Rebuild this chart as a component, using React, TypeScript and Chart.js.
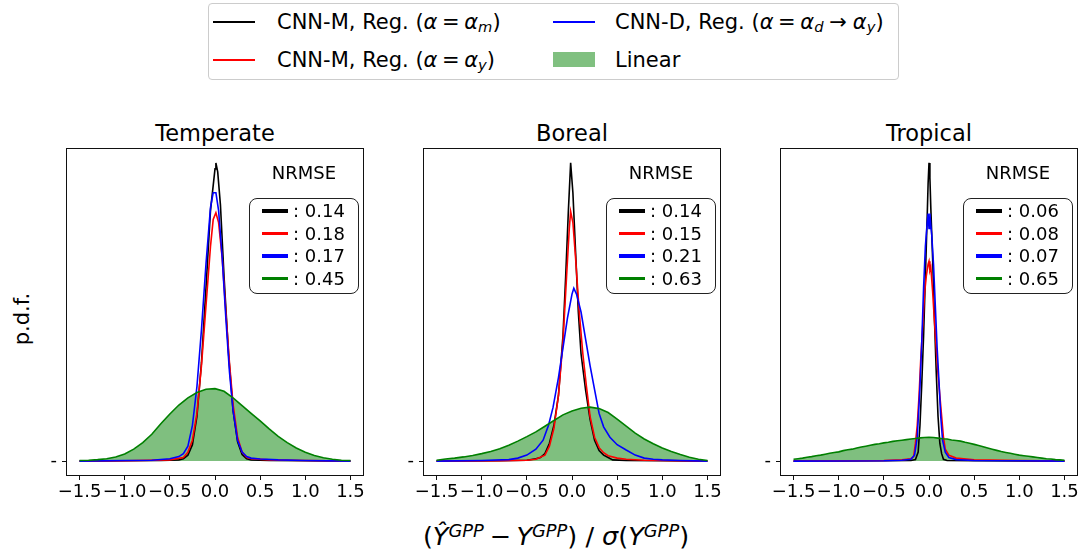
import React, { useEffect, useRef } from 'react';
import { Chart, registerables } from 'chart.js';

Chart.register(...registerables);

const FONT = "'DejaVu Sans', 'Liberation Sans', sans-serif";

// ---------- axis ticks ----------
const xTicks = [-1.5, -1.0, -0.5, 0.0, 0.5, 1.0, 1.5];
const xTickLabels = ['\u22121.5', '\u22121.0', '\u22120.5', '0.0', '0.5', '1.0', '1.5'];
const yTicks = [0];
const yTickLabels = ['-'];

// ---------- legend / titles ----------
const panelTitles = ['Temperate', 'Boreal', 'Tropical'];
const temperateNrmse = ['0.14', '0.18', '0.17', '0.45'];
const borealNrmse = ['0.14', '0.15', '0.21', '0.63'];
const tropicalNrmse = ['0.06', '0.08', '0.07', '0.65'];

// ---------- Linear (green, filled) ----------
const linearX = [-1.5, -1.4, -1.3, -1.2, -1.1, -1.0, -0.9, -0.8, -0.7, -0.6, -0.5, -0.4, -0.3, -0.2, -0.1, 0.0,
  0.1, 0.2, 0.3, 0.4, 0.5, 0.6, 0.7, 0.8, 0.9, 1.0, 1.1, 1.2, 1.3, 1.4, 1.5];
const temperateLinear = [0.002, 0.003, 0.005, 0.008, 0.014, 0.024, 0.040, 0.062, 0.090, 0.125, 0.158, 0.188, 0.212,
  0.230, 0.241, 0.243, 0.234, 0.212, 0.186, 0.160, 0.135, 0.108, 0.083, 0.062, 0.044, 0.030, 0.019, 0.011, 0.006, 0.003, 0.002];
const borealLinear = [0.003, 0.007, 0.010, 0.014, 0.019, 0.025, 0.032, 0.041, 0.053, 0.067, 0.082, 0.098, 0.117,
  0.136, 0.155, 0.168, 0.177, 0.181, 0.176, 0.163, 0.141, 0.117, 0.094, 0.074, 0.058, 0.044, 0.032, 0.022, 0.013, 0.006, 0.002];
const tropicalLinearX = [-1.5, -1.45, -1.4, -1.35, -1.3, -1.25, -1.2, -1.15, -1.1, -1.05, -1.0, -0.95, -0.9, -0.85,
  -0.8, -0.75, -0.7, -0.65, -0.6, -0.55, -0.5, -0.45, -0.4, -0.35, -0.3, -0.25, -0.2, -0.15, -0.1, -0.05, 0.0,
  0.05, 0.1, 0.15, 0.2, 0.25, 0.3, 0.35, 0.4, 0.45, 0.5, 0.55, 0.6, 0.65, 0.7, 0.75, 0.8, 0.85, 0.9, 0.95, 1.0,
  1.05, 1.1, 1.15, 1.2, 1.25, 1.3, 1.35, 1.4, 1.45, 1.5];
const tropicalLinear = [0.006, 0.008, 0.010, 0.013, 0.015, 0.018, 0.020, 0.023, 0.026, 0.029, 0.031, 0.035, 0.038,
  0.040, 0.044, 0.047, 0.050, 0.053, 0.056, 0.058, 0.061, 0.063, 0.066, 0.068, 0.070, 0.072, 0.074, 0.076, 0.078,
  0.079, 0.080, 0.079, 0.077, 0.075, 0.074, 0.071, 0.069, 0.067, 0.063, 0.060, 0.056, 0.052, 0.048, 0.044, 0.040,
  0.036, 0.032, 0.029, 0.026, 0.023, 0.020, 0.018, 0.016, 0.014, 0.012, 0.010, 0.008, 0.007, 0.005, 0.004, 0.003];

// ---------- Temperate ----------
const temperateMX = [-1.5, -1.0, -0.6, -0.4, -0.35, -0.3, -0.25, -0.2, -0.15, -0.1, -0.05, 0.0, 0.01, 0.03, 0.06,
  0.1, 0.15, 0.2, 0.25, 0.3, 0.35, 0.4, 0.6, 1.0, 1.5];
const temperateMY = [0, 0.001, 0.002, 0.004, 0.008, 0.02, 0.055, 0.15, 0.33, 0.58, 0.84, 0.98, 1.0, 0.97, 0.86,
  0.62, 0.36, 0.17, 0.065, 0.022, 0.008, 0.004, 0.002, 0.001, 0];
const temperateYX = [-1.5, -1.0, -0.5, -0.35, -0.3, -0.25, -0.2, -0.15, -0.1, -0.05, -0.02, 0.01, 0.04, 0.08, 0.12,
  0.16, 0.2, 0.25, 0.3, 0.35, 0.4, 0.6, 1.0, 1.5];
const temperateYY = [0, 0.001, 0.004, 0.012, 0.03, 0.07, 0.16, 0.32, 0.52, 0.72, 0.81, 0.833, 0.80, 0.68, 0.50,
  0.33, 0.19, 0.08, 0.03, 0.013, 0.008, 0.004, 0.002, 0];
const temperateDX = [-1.5, -1.0, -0.7, -0.5, -0.4, -0.35, -0.3, -0.25, -0.2, -0.15, -0.1, -0.05, -0.02, 0.01, 0.04,
  0.08, 0.12, 0.16, 0.2, 0.25, 0.3, 0.35, 0.4, 0.5, 0.7, 1.0, 1.5];
const temperateDY = [0, 0.002, 0.003, 0.008, 0.015, 0.025, 0.05, 0.12, 0.25, 0.44, 0.66, 0.85, 0.90, 0.90, 0.84,
  0.68, 0.48, 0.30, 0.17, 0.07, 0.03, 0.015, 0.01, 0.007, 0.004, 0.002, 0];

// ---------- Boreal ----------
const borealMX = [-1.5, -0.8, -0.5, -0.4, -0.35, -0.3, -0.25, -0.2, -0.15, -0.1, -0.07, -0.04, -0.015, 0.01, 0.04,
  0.07, 0.1, 0.15, 0.2, 0.25, 0.3, 0.35, 0.4, 0.45, 0.6, 1.0, 1.5];
const borealMY = [0, 0.001, 0.003, 0.008, 0.012, 0.025, 0.06, 0.12, 0.22, 0.42, 0.62, 0.84, 1.0, 0.90, 0.70,
  0.50, 0.36, 0.24, 0.14, 0.07, 0.035, 0.02, 0.012, 0.004, 0.002, 0.001, 0];
const borealYX = [-1.5, -0.8, -0.5, -0.4, -0.3, -0.25, -0.2, -0.15, -0.1, -0.06, -0.03, -0.015, 0.01, 0.04, 0.08,
  0.12, 0.16, 0.2, 0.25, 0.3, 0.35, 0.4, 0.5, 0.6, 0.8, 1.0, 1.5];
const borealYY = [0, 0.001, 0.003, 0.006, 0.02, 0.05, 0.11, 0.22, 0.40, 0.62, 0.78, 0.837, 0.80, 0.68, 0.50,
  0.36, 0.25, 0.15, 0.08, 0.045, 0.028, 0.018, 0.010, 0.006, 0.003, 0.002, 0];
const borealDX = [-1.5, -1.0, -0.7, -0.6, -0.5, -0.4, -0.32, -0.26, -0.21, -0.15, -0.1, -0.05, 0.0, 0.02, 0.05,
  0.1, 0.15, 0.2, 0.25, 0.3, 0.35, 0.42, 0.5, 0.6, 0.7, 0.8, 0.9, 1.0, 1.2, 1.5];
const borealDY = [0, 0.002, 0.005, 0.01, 0.02, 0.04, 0.07, 0.12, 0.18, 0.28, 0.38, 0.48, 0.56, 0.58, 0.56,
  0.50, 0.41, 0.32, 0.24, 0.16, 0.115, 0.08, 0.055, 0.037, 0.02, 0.01, 0.006, 0.004, 0.002, 0];

// ---------- Tropical ----------
const tropicalMX = [-1.5, -0.5, -0.2, -0.15, -0.12, -0.1, -0.08, -0.06, -0.04, -0.02, -0.01, 0.0, 0.01, 0.02, 0.04,
  0.06, 0.08, 0.1, 0.12, 0.14, 0.16, 0.2, 0.5, 1.5];
const tropicalMY = [0, 0.001, 0.002, 0.005, 0.03, 0.12, 0.26, 0.42, 0.62, 0.82, 0.93, 1.0, 0.95, 0.85, 0.68,
  0.48, 0.30, 0.15, 0.06, 0.025, 0.006, 0.002, 0.001, 0];
const tropicalYX = [-1.5, -0.5, -0.3, -0.2, -0.17, -0.15, -0.13, -0.11, -0.09, -0.07, -0.05, -0.03, -0.01, 0.0,
  0.01, 0.02, 0.04, 0.06, 0.08, 0.1, 0.12, 0.14, 0.16, 0.18, 0.22, 0.3, 0.5, 1.0, 1.5];
const tropicalYY = [0, 0.002, 0.004, 0.008, 0.015, 0.06, 0.12, 0.22, 0.35, 0.45, 0.56, 0.62, 0.66, 0.67,
  0.64, 0.65, 0.57, 0.47, 0.38, 0.29, 0.22, 0.15, 0.08, 0.04, 0.02, 0.01, 0.004, 0.002, 0];
const tropicalDX = [-1.5, -0.5, -0.3, -0.2, -0.16, -0.13, -0.1, -0.08, -0.06, -0.04, -0.02, -0.01, 0.0, 0.01, 0.02,
  0.03, 0.05, 0.07, 0.09, 0.11, 0.13, 0.15, 0.18, 0.22, 0.3, 0.5, 1.0, 1.5];
const tropicalDY = [0, 0.001, 0.003, 0.006, 0.02, 0.08, 0.25, 0.40, 0.58, 0.72, 0.80, 0.83, 0.78, 0.83, 0.79,
  0.76, 0.66, 0.52, 0.38, 0.27, 0.15, 0.07, 0.03, 0.012, 0.005, 0.002, 0.001, 0];

// ---------- styling ----------
const C_M = '#000000';
const C_Y = '#ff0000';
const C_D = '#0000ff';
const C_LIN = '#008000';
const C_FILL = 'rgba(0,128,0,0.5)';
const legendColors = [C_M, C_Y, C_D, C_LIN];

const BOX_W = 298;
const BOX_H = 328;
const BOX_TOP = 148;
const Y_AXIS_W = 30;
const X_AXIS_H = 32;
const PAD_TOP = 2;
const PAD_RIGHT = 4;

type Curve = { xs: number[]; ys: number[] };
type Panel = {
  title: string;
  left: number;
  nrmse: string[];
  lin: Curve;
  m: Curve;
  y: Curve;
  d: Curve;
};

const panels: Panel[] = [
  {
    title: panelTitles[0], left: 66, nrmse: temperateNrmse,
    lin: { xs: linearX, ys: temperateLinear },
    m: { xs: temperateMX, ys: temperateMY },
    y: { xs: temperateYX, ys: temperateYY },
    d: { xs: temperateDX, ys: temperateDY },
  },
  {
    title: panelTitles[1], left: 423, nrmse: borealNrmse,
    lin: { xs: linearX, ys: borealLinear },
    m: { xs: borealMX, ys: borealMY },
    y: { xs: borealYX, ys: borealYY },
    d: { xs: borealDX, ys: borealDY },
  },
  {
    title: panelTitles[2], left: 780, nrmse: tropicalNrmse,
    lin: { xs: tropicalLinearX, ys: tropicalLinear },
    m: { xs: tropicalMX, ys: tropicalMY },
    y: { xs: tropicalYX, ys: tropicalYY },
    d: { xs: tropicalDX, ys: tropicalDY },
  },
];

const toPoints = (c: Curve) => c.xs.map((x, i) => ({ x, y: c.ys[i] }));

const framePlugin = {
  id: 'frame',
  afterDatasetsDraw(chart: any) {
    const { ctx, chartArea: a } = chart;
    ctx.save();
    ctx.strokeStyle = '#111';
    ctx.lineWidth = 1;
    ctx.strokeRect(Math.round(a.left) + 0.5, Math.round(a.top) + 0.5,
      Math.round(a.right - a.left) - 1, Math.round(a.bottom - a.top) - 1);
    ctx.restore();
  },
};

const zeroPadding = (s: any) => {
  s.paddingTop = 0;
  s.paddingBottom = 0;
  s.paddingLeft = 0;
  s.paddingRight = 0;
};

function PanelChart({ p }: { p: Panel }) {
  const ref = useRef<HTMLCanvasElement | null>(null);
  const cw = Y_AXIS_W + BOX_W + PAD_RIGHT;
  const ch = PAD_TOP + BOX_H + X_AXIS_H;
  useEffect(() => {
    if (!ref.current) return;
    const line = (c: Curve, color: string) => ({
      data: toPoints(c),
      borderColor: color,
      borderWidth: 1.6,
      fill: false,
      pointRadius: 0,
      tension: 0,
    });
    const chart = new Chart(ref.current, {
      type: 'line',
      data: {
        datasets: [
          {
            data: toPoints(p.lin),
            borderColor: C_LIN,
            backgroundColor: C_FILL,
            borderWidth: 1.6,
            fill: 'origin',
            pointRadius: 0,
            tension: 0,
          },
          line(p.d, C_D),
          line(p.y, C_Y),
          line(p.m, C_M),
        ],
      },
      options: {
        animation: false,
        responsive: false,
        maintainAspectRatio: false,
        devicePixelRatio: 1,
        events: [],
        layout: { padding: { left: 0, right: PAD_RIGHT, top: PAD_TOP, bottom: 0 } },
        plugins: {
          legend: { display: false },
          tooltip: { enabled: false },
          title: { display: false },
          filler: { drawTime: 'beforeDatasetsDraw' },
        },
        scales: {
          x: {
            type: 'linear',
            min: -1.65,
            max: 1.65,
            afterBuildTicks: (s: any) => { s.ticks = xTicks.map((v) => ({ value: v })); },
            afterFit: (s: any) => { s.height = X_AXIS_H; zeroPadding(s); },
            ticks: {
              autoSkip: false,
              maxRotation: 0,
              minRotation: 0,
              padding: 2,
              color: '#000',
              font: { family: FONT, size: 18 },
              callback: (_v: any, i: number) => xTickLabels[i],
            },
            grid: { drawOnChartArea: false, drawTicks: true, tickLength: 4, color: '#111', lineWidth: 1 },
            border: { display: false },
          },
          y: {
            type: 'linear',
            min: -0.05,
            max: 1.05,
            afterBuildTicks: (s: any) => { s.ticks = yTicks.map((v) => ({ value: v })); },
            afterFit: (s: any) => { s.width = Y_AXIS_W; zeroPadding(s); },
            ticks: {
              autoSkip: false,
              padding: 5,
              color: '#000',
              font: { family: FONT, size: 18 },
              callback: (_v: any, i: number) => yTickLabels[i],
            },
            grid: { drawOnChartArea: false, drawTicks: true, tickLength: 4, color: '#111', lineWidth: 1 },
            border: { display: false },
          },
        },
      } as any,
      plugins: [framePlugin],
    });
    return () => chart.destroy();
  }, [p]);
  return (
    <canvas
      ref={ref}
      width={cw}
      height={ch}
      style={{ position: 'absolute', left: p.left - Y_AXIS_W, top: BOX_TOP - PAD_TOP, width: cw, height: ch }}
    />
  );
}

const sub: React.CSSProperties = { fontSize: '0.7em', position: 'relative', top: '0.22em', fontStyle: 'italic' };
const sup: React.CSSProperties = { fontSize: '0.7em', position: 'relative', top: '-0.45em', fontStyle: 'italic' };
const op: React.CSSProperties = { margin: '0 0.22em' };
const arrow: React.CSSProperties = { margin: '0 0.28em' };

function textAt(left: number, baseline: number, size: number, extra: React.CSSProperties = {}): React.CSSProperties {
  return {
    position: 'absolute',
    left,
    top: baseline - 0.846 * size,
    fontSize: size,
    lineHeight: 1,
    fontFamily: FONT,
    whiteSpace: 'nowrap',
    color: '#000',
    ...extra,
  };
}

function InnerLegend({ p }: { p: Panel }) {
  const boxRight = p.left + BOX_W - 5;
  const boxW = 110;
  const boxLeft = boxRight - boxW;
  const boxTop = 198;
  const rows = [211, 233.5, 256, 278.5];
  return (
    <>
      <div style={textAt(boxLeft + boxW / 2, 179.5, 18, { transform: 'translateX(-50%)' })}>NRMSE</div>
      <div
        style={{
          position: 'absolute', left: boxLeft, top: boxTop, width: boxW, height: 96,
          border: '1.2px solid #222', borderRadius: 8, boxSizing: 'border-box', background: 'rgba(255,255,255,0.8)',
        }}
      />
      {p.nrmse.map((v, i) => (
        <React.Fragment key={i}>
          <div
            style={{
              position: 'absolute', left: boxLeft + 13, top: rows[i] - 2, width: 26, height: 3.5,
              background: legendColors[i],
            }}
          />
          <div style={textAt(boxLeft + 44, rows[i] + 6.5, 18)}>: {v}</div>
        </React.Fragment>
      ))}
    </>
  );
}

export default function App() {
  return (
    <div style={{ position: 'absolute', left: 0, top: 0, width: 1086, height: 552, background: '#fff', overflow: 'hidden' }}>
      {/* top legend */}
      <div
        style={{
          position: 'absolute', left: 208, top: 3, width: 691, height: 77,
          border: '1px solid #cccccc', borderRadius: 4, boxSizing: 'border-box', background: '#fff',
        }}
      />
      <div style={{ position: 'absolute', left: 213, top: 21, width: 42, height: 1.8, background: C_M }} />
      <div style={textAt(277, 29.6, 21)}>
        CNN-M, Reg. (<i>α</i><span style={op}>=</span><i>α</i><span style={sub}>m</span>)
      </div>
      <div style={{ position: 'absolute', left: 213, top: 59, width: 42, height: 1.8, background: C_Y }} />
      <div style={textAt(277, 67.6, 21)}>
        CNN-M, Reg. (<i>α</i><span style={op}>=</span><i>α</i><span style={sub}>y</span>)
      </div>
      <div style={{ position: 'absolute', left: 553, top: 21, width: 42, height: 1.8, background: C_D }} />
      <div style={textAt(615, 29.6, 21)}>
        CNN-D, Reg. (<i>α</i><span style={op}>=</span><i>α</i><span style={sub}>d</span>
        <span style={arrow}>→</span><i>α</i><span style={sub}>y</span>)
      </div>
      <div style={{ position: 'absolute', left: 553, top: 52, width: 42, height: 15, background: 'rgb(128,192,128)' }} />
      <div style={textAt(615, 67.6, 21)}>Linear</div>

      {panels.map((p, i) => (
        <React.Fragment key={i}>
          <div style={textAt(p.left + BOX_W / 2, 141, 22.5, { transform: 'translateX(-50%)' })}>{p.title}</div>
          <PanelChart p={p} />
          <InnerLegend p={p} />
        </React.Fragment>
      ))}

      {/* y label */}
      <div
        style={{
          position: 'absolute', left: 22, top: 319, fontSize: 21, lineHeight: 1, fontFamily: FONT,
          whiteSpace: 'nowrap', transform: 'translate(-50%, -50%) rotate(-90deg)',
        }}
      >
        p.d.f.
      </div>

      {/* x label */}
      <div style={textAt(556, 546, 25.5, { transform: 'translateX(-50%)' })}>
        (<i>Ŷ</i><span style={sup}>GPP</span><span style={op}>−</span><i>Y</i><span style={sup}>GPP</span>)
        {' / '}<i>σ</i>(<i>Y</i><span style={sup}>GPP</span>)
      </div>
    </div>
  );
}
